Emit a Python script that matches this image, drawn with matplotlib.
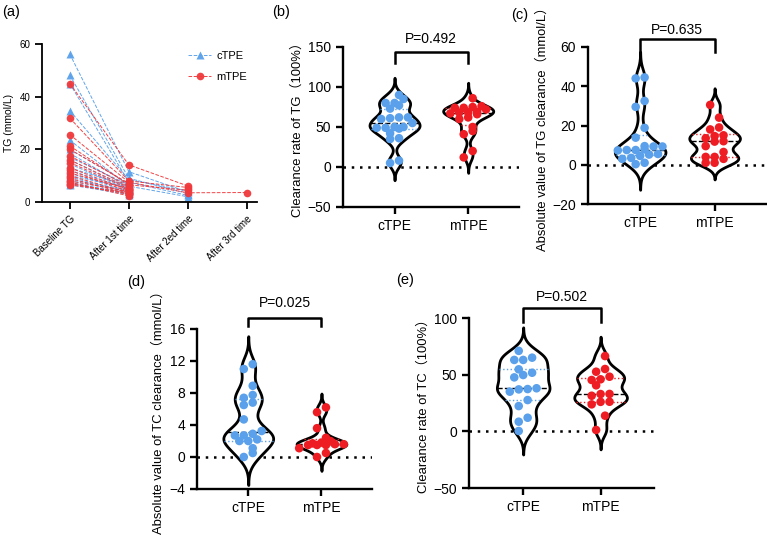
import matplotlib
matplotlib.use("Agg")
import matplotlib.pyplot as plt
import numpy as np

plt.rcParams['font.family'] = ['Liberation Sans', 'Noto Sans CJK SC', 'DejaVu Sans']

BLUE = '#5aa0ea'
RED = '#ee1d23'
nan = np.nan

# (a) TG at each session, one entry per patient
stages = ['Baseline TG', 'After 1st time', 'After 2ed time', 'After 3rd time']
ctpe_base = [56.2, 48.2, 45.0, 34.7, 23.5, 20.0, 18.5, 17.0, 16.0, 14.5, 13.0, 12.0, 11.0, 10.0, 9.5, 8.5, 8.0, 7.5, 7.0, 6.5]
ctpe_1st = [11.5, 9.0, 7.5, 8.5, 6.0, 7.0, 5.5, 6.5, 5.0, 4.5, 6.0, 5.0, 4.0, 5.5, 3.5, 4.5, 4.0, 3.0, 3.5, 2.8]
ctpe_2nd = [3.8, 3.2, 2.5, 4.2, 2.0, nan, nan, nan, nan, nan, nan, nan, nan, nan, nan, nan, nan, nan, nan, nan]
mtpe_base = [45.0, 31.9, 25.6, 21.3, 20.0, 17.5, 16.0, 15.0, 13.0, 12.0, 11.0, 10.0, 9.0, 8.0, 7.5, 7.0, 6.5]
mtpe_1st = [14.1, 8.0, 7.5, 6.5, 7.0, 6.0, 5.5, 5.0, 4.5, 4.0, 5.0, 3.5, 3.0, 4.0, 2.3, 3.0, 3.5]
mtpe_2nd = [6.1, 5.5, 3.5, 4.5, nan, nan, nan, nan, nan, nan, nan, nan, nan, nan, nan, nan, nan]
mtpe_3rd = [nan, nan, 3.6, nan, nan, nan, nan, nan, nan, nan, nan, nan, nan, nan, nan, nan, nan]

groups = ['cTPE', 'mTPE']
# (b) clearance rate of TG
b_ctpe = [90, 85, 80, 80, 77, 73, 62, 62, 61, 60, 55, 50, 50, 49, 49, 48, 42, 36, 35, 8, 5]
b_mtpe = [86, 76, 75, 74, 74, 72, 69, 68, 68, 67, 66, 62, 60, 50, 45, 41, 20, 12]
# (c) absolute TG clearance
c_ctpe = [44.5, 44.0, 32.5, 29.5, 18.8, 13.8, 9.5, 9.3, 9.3, 7.8, 7.5, 7.5, 7.3, 5.5, 5.2, 4.5, 3.5, 3.0, 1.0, 0.3]
c_mtpe = [30.5, 24, 19, 18, 15, 14.6, 13.5, 12, 11.8, 9.5, 6.5, 4, 4, 3, 1, 1]
# (d) absolute TC clearance
d_ctpe = [11.6, 11.0, 8.9, 7.75, 7.4, 6.8, 6.5, 4.7, 3.25, 2.9, 2.7, 2.7, 2.2, 2.0, 2.0, 1.1, 0.5, 0.0]
d_mtpe = [6.2, 5.6, 3.6, 2.4, 2.0, 1.8, 1.7, 1.6, 1.6, 1.5, 1.5, 1.5, 1.1, 0.5, 0.0]
# (e) clearance rate of TC
e_ctpe = [71, 65, 63, 63, 54.7, 51.7, 49.7, 47.6, 38, 37.3, 37, 35, 27.6, 22.3, 12, 8.5, 0.3]
e_mtpe = [66.4, 55, 52.6, 48.2, 45.9, 45.3, 40.6, 33, 32.9, 31.4, 26.1, 26, 23.8, 13.8, 1.2]

W, H = 767, 536
fig = plt.figure(figsize=(W / 100, H / 100), dpi=100)


def px_axes(l, t, r, b):
    return fig.add_axes([l / W, 1 - b / H, (r - l) / W, (b - t) / H])


def style(ax, lw=1.7, size=10):
    for s in ['top', 'right']:
        ax.spines[s].set_visible(False)
    for s in ['left', 'bottom']:
        ax.spines[s].set_linewidth(lw)
    ax.tick_params(width=lw, length=5, labelsize=size, direction='out')


def kde(vals, grid, bw):
    z = (grid[:, None] - vals[None, :]) / bw
    return np.exp(-0.5 * z ** 2).sum(axis=1)


def swarm(vals, ppy, ppx, diam=8.5):
    # group points of similar height into rows, spread each row sideways
    order = np.argsort(vals)
    offs = np.zeros(len(vals))
    rows, cur = [], [order[0]]
    for i in order[1:]:
        if (vals[i] - vals[cur[0]]) * ppy < diam * 0.6 and len(cur) < 6:
            cur.append(i)
        else:
            rows.append(cur)
            cur = [i]
    rows.append(cur)
    for r, row in enumerate(rows):
        n = len(row)
        shift = 0.5 if (n == 1 and r % 2) else (-0.5 if n == 1 else 0)
        for k, idx in enumerate(row):
            offs[idx] = (k - (n - 1) / 2 + shift) * diam * 1.05 / ppx
    return offs


def violin_panel(ax, data, colors, ylim, yticks, ylabel, pval, br_top, br_low, txt_y):
    ax.set_xlim(-0.7, 1.69)
    ax.set_ylim(*ylim)
    ppy = ax.bbox.height / (ylim[1] - ylim[0])
    ppx = ax.bbox.width / (1.69 + 0.7)
    ax.axhline(0, color='black', lw=1.8, ls=(0, (1, 2.3)), zorder=1)
    for x, vals, col in zip([0, 1], data, colors):
        v = np.asarray(vals, float)
        bw = 0.6 * v.std() * len(v) ** (-0.2)
        grid = np.linspace(v.min() - 3 * bw, v.max() + 3 * bw, 400)
        d = kde(v, grid, bw)
        w = 0.34 * d / d.max()
        ax.fill_betweenx(grid, x - w, x + w, facecolor='white', edgecolor='black', lw=2.0, zorder=2)
        q1, med, q3 = np.percentile(v, [25, 50, 75])
        for q, c, ls in [(q1, col, ':'), (q3, col, ':'), (med, 'black', '--')]:
            hw = np.interp(q, grid, w)
            ax.plot([x - hw, x + hw], [q, q], color=c, ls=ls, lw=1.0, zorder=3)
        ax.scatter(x + swarm(v, ppy, ppx), v, s=38, color=col, edgecolor='none', zorder=4)
    ax.plot([0, 0, 1, 1], [br_low, br_top, br_top, br_low], color='black', lw=1.8, clip_on=False)
    ax.text(0.5, txt_y, pval, ha='center', va='center', fontsize=10, clip_on=False)
    ax.set_xticks([0, 1])
    ax.set_xticklabels(groups)
    ax.set_yticks(yticks)
    ax.set_ylabel(ylabel, fontsize=9.4, labelpad=3)
    style(ax)


# (a)
ax = px_axes(42, 44, 257, 202)
xs = np.arange(len(stages))
for i in range(len(ctpe_base)):
    row = [ctpe_base[i], ctpe_1st[i], ctpe_2nd[i], nan]
    ax.plot(xs, row, color=BLUE, ls='--', lw=0.7, marker='^', ms=5.5, mec='none', alpha=0.95,
            label='cTPE' if i == 0 else None)
for i in range(len(mtpe_base)):
    row = [mtpe_base[i], mtpe_1st[i], mtpe_2nd[i], mtpe_3rd[i]]
    ax.plot(xs, row, color='#f0393c', ls='--', lw=0.7, marker='o', ms=5.5, mec='none', alpha=0.95,
            label='mTPE' if i == 0 else None)
ax.set_xlim(-0.47, 3.17)
ax.set_ylim(0, 60)
ax.set_yticks([0, 20, 40, 60])
ax.set_xticks(xs)
ax.set_xticklabels(stages, rotation=45, ha='right', rotation_mode='anchor')
ax.set_ylabel('TG (mmol/L)', fontsize=7.5)
style(ax, lw=1.3, size=7)
ax.legend(loc='upper right', bbox_to_anchor=(1.0, 1.02), frameon=False, fontsize=8,
          handlelength=2.0, handletextpad=0.5, labelspacing=1.0)

# (b)
ax = px_axes(343, 47, 519, 207)
violin_panel(ax, [b_ctpe, b_mtpe], [BLUE, RED], (-50, 150), [-50, 0, 50, 100, 150],
             'Clearance rate of TG（100%）', 'P=0.492', 143.8, 130, 160)

# (c)
ax = px_axes(588, 47, 766, 204)
violin_panel(ax, [c_ctpe, c_mtpe], [BLUE, RED], (-20, 60), [-20, 0, 20, 40, 60],
             'Absolute value of TG clearance（mmol/L）', 'P=0.635', 64, 57.5, 68.7)

# (d)
ax = px_axes(197, 329, 372, 489)
violin_panel(ax, [d_ctpe, d_mtpe], [BLUE, RED], (-4, 16), [-4, 0, 4, 8, 12, 16],
             'Absolute value of TC clearance（mmol/L）', 'P=0.025', 17.4, 16.4, 19.2)

# (e)
ax = px_axes(469, 318, 654, 488)
violin_panel(ax, [e_ctpe, e_mtpe], [BLUE, RED], (-50, 100), [-50, 0, 50, 100],
             'Clearance rate of TC（100%）', 'P=0.502', 108.5, 96.7, 118.8)

for lab, x, y in [('(a)', 2, 12), ('(b)', 272, 12), ('(c)', 511, 15), ('(d)', 127, 282), ('(e)', 396, 280)]:
    fig.text(x / W, 1 - y / H, lab, fontsize=10.5, va='center', ha='left')

fig.savefig('out.png', dpi=100)
